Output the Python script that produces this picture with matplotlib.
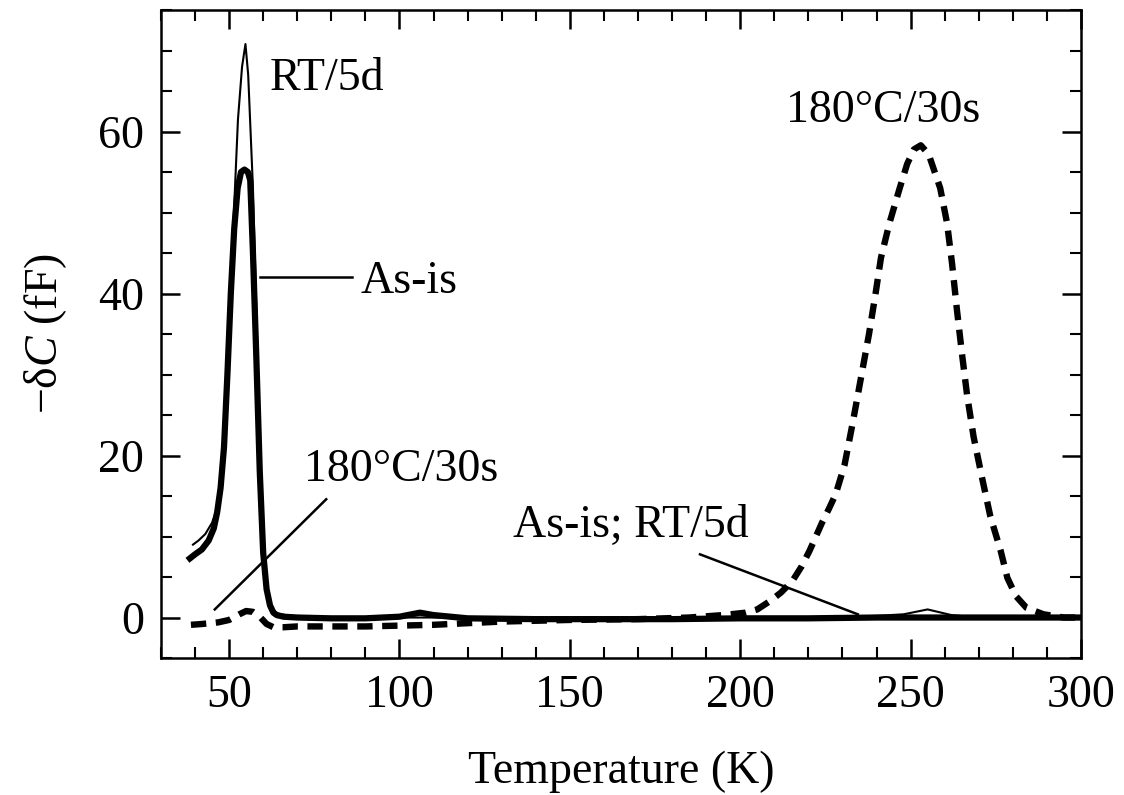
import numpy as np
import matplotlib
matplotlib.use('Agg')
import matplotlib.pyplot as plt
from matplotlib.ticker import MultipleLocator

plt.rcParams['font.family'] = ['Liberation Serif', 'DejaVu Serif']
plt.rcParams['mathtext.fontset'] = 'custom'
plt.rcParams['mathtext.rm'] = 'Liberation Serif'
plt.rcParams['mathtext.it'] = 'Liberation Serif:italic'

# As-is (thick solid)
t_asis = [38.5, 40, 42, 44, 45.5, 46.5, 47.5, 48.5, 49.5, 50.5, 51.5, 52.5, 53.5, 54.5, 55.5,
          56.2, 57, 58, 59, 60, 61, 62, 63, 64, 66, 70, 80, 90, 100, 106, 110, 120, 140,
          160, 180, 200, 220, 240, 260, 280, 300]
v_asis = [7.3, 7.8, 8.4, 9.5, 11, 13, 16, 21, 30, 40, 48, 53, 55, 55.3, 55,
          54, 45, 32, 18, 8, 3.5, 1.5, 0.6, 0.3, 0.1, 0, -0.1, -0.1, 0.1, 0.6, 0.3, -0.1, -0.2,
          -0.2, -0.2, -0.1, -0.1, 0, 0, 0, 0]

# RT/5d (thin solid)
t_rt = [39.4, 41, 43, 45, 46.5, 48, 49.5, 51, 52.6, 53.8, 54.8, 55.6, 56.2, 57, 58, 59, 60,
        61, 62, 64, 68, 80, 100, 120, 150, 180, 200, 220, 240, 248, 255, 262, 270, 300]
v_rt = [9.0, 9.5, 10.3, 11.7, 13.5, 17.5, 28, 46, 61.5, 68, 70.8, 67, 61, 53, 38, 22, 10,
        4, 1.5, 0.5, 0.2, 0, 0, 0, 0, 0, 0, 0, 0.2, 0.4, 1.0, 0.3, 0, 0]

# 180C/30s (thick dashed)
t_ann = [38.8, 42, 46.8, 50, 53, 55, 57, 59, 61, 63, 66, 70, 80, 90, 100, 110, 120, 130, 150,
         170, 185, 195, 201.6, 205, 209, 212, 215.3, 218, 220.3, 222, 224, 226, 228, 230.6,
         233, 235.4, 237.8, 239.8, 241.3, 243.8, 246.8, 249, 251, 253, 255.3, 258.7, 260.7,
         262.2, 263.6, 265.1, 266.6, 268.5, 271, 273.4, 276.4, 278.4, 281, 284, 289, 295, 300]
v_ann = [-0.9, -0.8, -0.6, -0.3, 0.4, 0.8, 0.7, 0.1, -0.8, -1.2, -1.2, -1.1, -1.1, -1.1, -1.0,
         -0.9, -0.7, -0.5, -0.3, -0.2, 0, 0.3, 0.6, 1.0, 2.1, 3.1, 4.5, 6.3, 8.2, 9.8, 11.7,
         13.4, 15.2, 18.8, 24, 29.5, 35, 40.2, 44.4, 48.7, 53, 56, 57.8, 58.3, 57.2, 53, 48.7,
         43.6, 38, 32.5, 27.4, 22.3, 17.2, 12.5, 8.3, 4.9, 2.6, 1.2, 0.4, 0, 0]

fig = plt.figure(figsize=(11.24, 7.95), dpi=100)
ax = fig.add_axes([0.1432, 0.1723, 0.8185, 0.8151])

ax.plot(t_ann, v_ann, color='k', lw=4.6, linestyle=(0, (2.4, 1.5)), zorder=2)
ax.plot(t_asis, v_asis, color='k', lw=4.5, zorder=3)
ax.plot(t_rt, v_rt, color='k', lw=1.5, zorder=4)

fs = 33
lk = dict(color='k', lw=1.8)
ax.text(62, 66.5, 'RT/5d', fontsize=fs, va='center', ha='left')
ax.plot([59, 86], [42, 42], **lk)
ax.text(88.5, 41.5, 'As-is', fontsize=fs, va='center', ha='left')
ax.text(241.8, 62.6, '180°C/30s', fontsize=fs, va='center', ha='center')
ax.text(100.6, 18.3, '180°C/30s', fontsize=fs, va='center', ha='center')
ax.plot([78.5, 45.8], [14.6, 1.0], **lk)
ax.text(168, 11.3, 'As-is; RT/5d', fontsize=fs, va='center', ha='center')
ax.plot([188.2, 234.5], [7.8, 0.4], **lk)

ax.set_xlim(30, 300)
ax.set_ylim(-5, 75)
ax.xaxis.set_major_locator(MultipleLocator(50))
ax.xaxis.set_minor_locator(MultipleLocator(10))
ax.yaxis.set_major_locator(MultipleLocator(20))
ax.yaxis.set_minor_locator(MultipleLocator(5))
ax.tick_params(which='both', direction='in', top=True, right=True, labelsize=fs, pad=12)
ax.tick_params(which='major', length=14, width=1.8)
ax.tick_params(which='minor', length=8, width=1.5)
for s in ax.spines.values():
    s.set_linewidth(1.8)

ax.set_xlabel('Temperature (K)', fontsize=fs)
ax.set_ylabel('−δ$C$ (fF)', fontsize=fs)
ax.xaxis.set_label_coords(0.5, -0.142)
ax.yaxis.set_label_coords(-0.10, 0.5)

plt.savefig('out.png', dpi=100)
